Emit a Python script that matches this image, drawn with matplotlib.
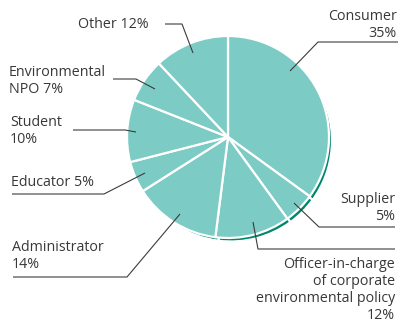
import matplotlib.pyplot as plt

# Share of respondents by category
categories = ["Consumer", "Supplier", "Officer-in-charge\nof corporate\nenvironmental policy",
              "Administrator", "Educator", "Student", "Environmental\nNPO", "Other"]
shares = [35, 5, 12, 14, 5, 10, 7, 12]

light = "#7ccbc5"
dark = "#00876a"
text_color = "#383838"
line_color = "#3c3c3c"

plt.rcParams['font.family'] = ['Open Sans', 'DejaVu Sans']

W, H = 402, 322
fig = plt.figure(figsize=(W / 100, H / 100), dpi=100)
ax = fig.add_axes([0, 0, 1, 1])


def P(x, y):
    # pixel position (top-left origin) -> axes data coordinates
    return x, H - y


cx, cy = P(228, 137)
R = 101

# dark rim underneath, nudged down and right
ax.pie(shares, startangle=90, counterclock=False, radius=R, center=(cx + 3, cy - 3.5),
       colors=[dark] * len(shares), wedgeprops=dict(edgecolor="white", linewidth=1.6),
       frame=True)
ax.pie(shares, startangle=90, counterclock=False, radius=R, center=(cx, cy),
       colors=[light] * len(shares), wedgeprops=dict(edgecolor="white", linewidth=1.6),
       frame=True)
ax.set_xlim(0, W)
ax.set_ylim(0, H)
ax.set_aspect('equal')
ax.axis('off')

fs = 10.3
one_line = ("Other", "Educator", "Environmental\nNPO")
lab = {c: (f"{c} {s}%" if c in one_line else f"{c}\n{s}%") for c, s in zip(categories, shares)}

# label text: (category, anchor x, anchor y, alignment)
placements = [
    ("Consumer", 397, 25, "right"),
    ("Supplier", 395, 208, "right"),
    (categories[2], 395, 290, "right"),
    ("Administrator", 12, 256, "left"),
    ("Educator", 11, 183, "left"),
    ("Student", 10, 131, "left"),
    ("Environmental\nNPO", 9, 81, "left"),
    ("Other", 78, 24, "left"),
]
for name, x, y, ha in placements:
    ax.text(*P(x, y), lab[name], ha=ha, va="center", fontsize=fs, color=text_color,
            linespacing=1.18, multialignment=ha)

# leader lines from the labels to the wedges
leaders = [
    [(398, 42), (318, 42), (290, 71)],
    [(395, 227), (319, 227), (294, 203)],
    [(395, 249), (258, 249), (253, 222)],
    [(13, 277), (127, 277), (180, 214)],
    [(12, 194), (104, 194), (145, 173)],
    [(73, 130), (125, 130), (136, 132)],
    [(113, 79), (136, 79), (155, 89)],
    [(165, 24), (182, 24), (193, 53)],
]
for pts in leaders:
    xs, ys = zip(*[P(x, y) for x, y in pts])
    ax.plot(xs, ys, color=line_color, linewidth=0.8, solid_capstyle="butt")

fig.savefig("out.png", dpi=100)
